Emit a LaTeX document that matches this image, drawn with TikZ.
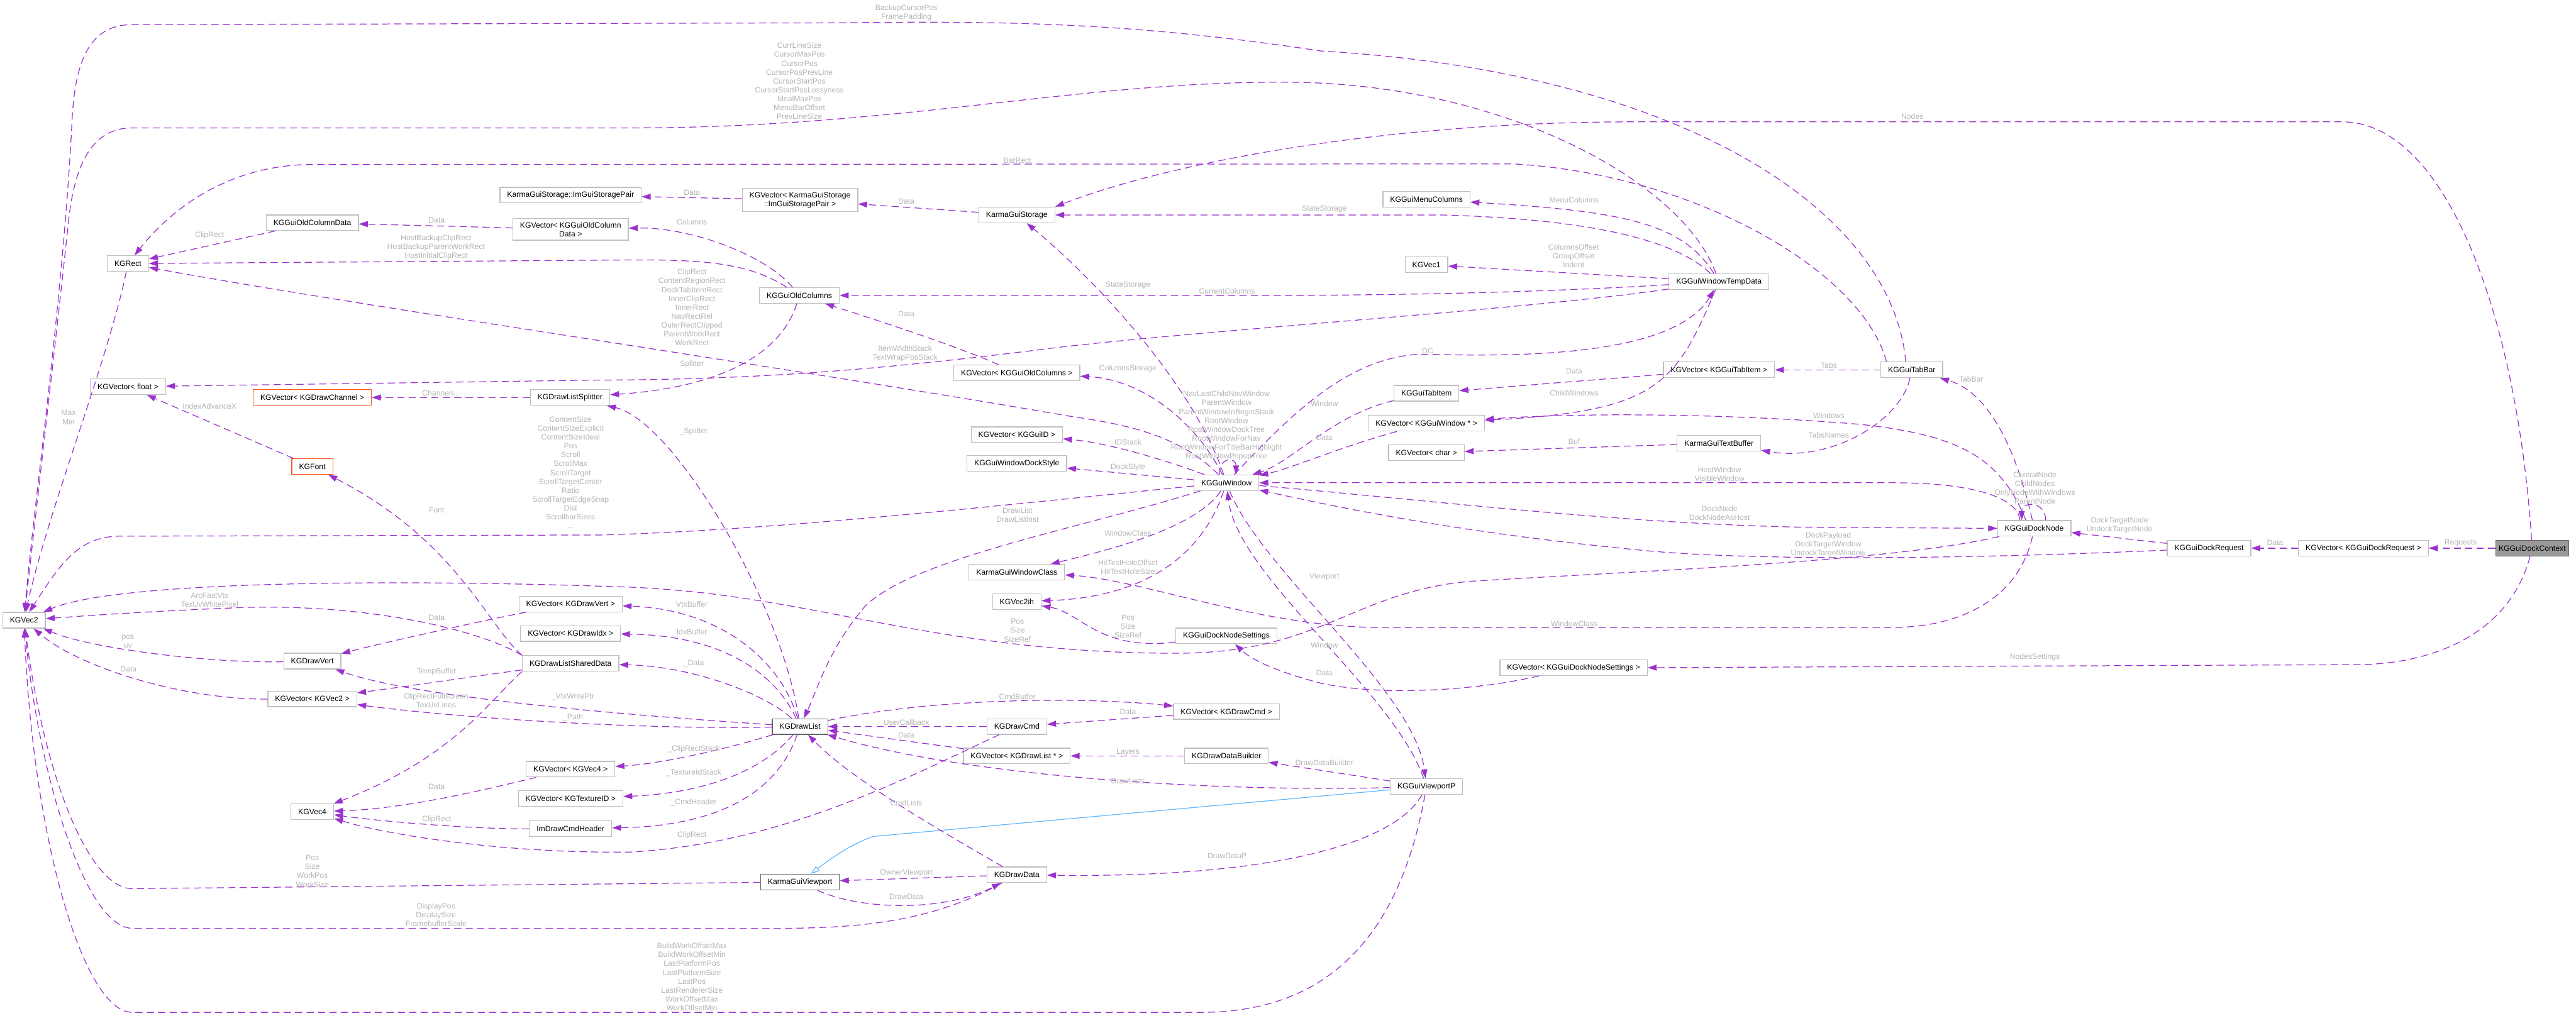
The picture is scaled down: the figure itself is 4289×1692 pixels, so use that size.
\documentclass[tikz,border=0pt]{standalone}
\usepackage{fontspec}
\setmainfont{Liberation Sans}
\usetikzlibrary{arrows.meta,calc}
\definecolor{relpurple}{HTML}{9A32CD}
\definecolor{inhblue}{HTML}{63B8FF}
\definecolor{nodegrey}{HTML}{BFBFBF}
\definecolor{docgrey}{HTML}{666666}
\definecolor{truncred}{HTML}{FF5722}
\definecolor{mainfill}{HTML}{999999}
\definecolor{labelgrey}{HTML}{B4B4B4}

\begin{document}
\begin{tikzpicture}[x=1pt,y=-1pt,>={Triangle[length=15pt,width=10pt]},font=\fontsize{12.8}{14.8}\selectfont]
\tikzstyle{cls}=[draw=nodegrey,line width=1.3pt,fill=white,align=center,inner xsep=12pt,inner ysep=6pt,minimum height=26pt]
\tikzstyle{clsdoc}=[cls,draw=docgrey]
\tikzstyle{clstrunc}=[cls,draw=truncred]
\tikzstyle{clsmain}=[cls,draw=docgrey,fill=mainfill,inner xsep=5pt]
\tikzstyle{rel}=[->,relpurple,line width=1.3pt,dash pattern=on 12pt off 7pt]
\tikzstyle{inh}=[-{Triangle[open,length=15pt,width=10pt]},inhblue,line width=1.3pt]
\tikzstyle{lbl}=[text=labelgrey,align=center,inner sep=0pt]

\useasboundingbox (0,0) rectangle (4289,1692);

\node[cls] (pair) at (950,325) {KarmaGuiStorage::ImGuiStoragePair};
\node[cls] (vpair) at (1332,333) {KGVector< KarmaGuiStorage\\::ImGuiStoragePair >};
\node[cls] (storage) at (1693,358) {KarmaGuiStorage};
\node[cls] (menucols) at (2375,332) {KGGuiMenuColumns};
\node[cls] (coldata) at (520,371) {KGGuiOldColumnData};
\node[cls] (vcoldata) at (950,382) {KGVector< KGGuiOldColumn\\Data >};
\node[cls] (rect) at (213,439) {KGRect};
\node[cls] (vec1) at (2375,441) {KGVec1};
\node[cls] (oldcols) at (1331,492) {KGGuiOldColumns};
\node[cls] (temp) at (2862,469) {KGGuiWindowTempData};
\node[cls] (vfloat) at (213,644) {KGVector< float >};
\node[clstrunc] (vchan) at (520,662) {KGVector< KGDrawChannel >};
\node[cls] (splitter) at (949,662) {KGDrawListSplitter};
\node[cls] (voldcols) at (1693,621) {KGVector< KGGuiOldColumns >};
\node[cls] (vtabitem) at (2862,616) {KGVector< KGGuiTabItem >};
\node[cls] (tabbar) at (3183,616) {KGGuiTabBar};
\node[cls] (tabitem) at (2375,655) {KGGuiTabItem};
\node[cls] (vwin) at (2375,705) {KGVector< KGGuiWindow * >};
\node[cls] (vid) at (1693,724) {KGVector< KGGuiID >};
\node[cls] (textbuf) at (2862,738) {KarmaGuiTextBuffer};
\node[cls] (vchar) at (2375,754) {KGVector< char >};
\node[cls] (dockstyle) at (1693,772) {KGGuiWindowDockStyle};
\node[clstrunc] (font) at (520,777) {KGFont};
\node[cls] (window) at (2042,804) {KGGuiWindow};
\node[cls] (docknode) at (3387,880) {KGGuiDockNode};
\node[cls] (request) at (3678,913) {KGGuiDockRequest};
\node[cls] (vrequest) at (3935,913) {KGVector< KGGuiDockRequest >};
\node[clsmain] (context) at (4216,913) {KGGuiDockContext};
\node[cls] (winclass) at (1693,953) {KarmaGuiWindowClass};
\node[cls] (vec2ih) at (1693,1002) {KGVec2ih};
\node[cls] (vvert) at (950,1006) {KGVector< KGDrawVert >};
\node[cls] (vec2) at (40,1033) {KGVec2};
\node[cls] (vidx) at (950,1055) {KGVector< KGDrawIdx >};
\node[cls] (nodeset) at (2042,1059) {KGGuiDockNodeSettings};
\node[cls] (vert) at (520,1101) {KGDrawVert};
\node[cls] (shared) at (950,1105) {KGDrawListSharedData};
\node[cls] (vnodeset) at (2620,1112) {KGVector< KGGuiDockNodeSettings >};
\node[cls] (vvec2) at (520,1164) {KGVector< KGVec2 >};
\node[cls] (vcmd) at (2042,1185) {KGVector< KGDrawCmd >};
\node[clsdoc] (drawlist) at (1332,1210) {KGDrawList};
\node[cls] (cmd) at (1693,1210) {KGDrawCmd};
\node[cls] (vdrawlist) at (1693,1259) {KGVector< KGDrawList * >};
\node[cls] (builder) at (2042,1259) {KGDrawDataBuilder};
\node[cls] (vvec4) at (950,1281) {KGVector< KGVec4 >};
\node[cls] (viewportp) at (2375,1310) {KGGuiViewportP};
\node[cls] (vtex) at (950,1330) {KGVector< KGTextureID >};
\node[cls] (vec4) at (520,1352) {KGVec4};
\node[cls] (header) at (950,1380) {ImDrawCmdHeader};
\node[cls] (drawdata) at (1693,1457) {KGDrawData};
\node[clsdoc] (viewport) at (1332,1469) {KarmaGuiViewport};

\draw[rel] (context) .. controls (4190,520) and (4070,203) .. (3900,203) -- (2700,203) .. controls (2300,205) and (1950,270) .. (storage.north east);
\draw[rel] (context) -- (vrequest);
\draw[rel] (context) .. controls (4180,1050) and (4060,1107) .. (3920,1107) -- (vnodeset.east);
\draw[rel] (vrequest) -- (request);
\draw[rel] (request) -- (docknode);
\draw[rel] (request) .. controls (3300,930) and (2950,935) .. (2750,918) .. controls (2450,890) and (2250,850) .. (window);
\draw[rel] ($(docknode.north)+(-24,0)$) .. controls (3360,830) and (3290,804) .. (3150,804) -- (window.east);
\draw[rel] (window) .. controls (2400,835) and (2700,872) .. (3000,878) -- (docknode.west);
\draw[rel] ($(docknode.north)+(19,0)$) .. controls +(0,-32) and +(0,-32) .. ($(docknode.north)+(-21,0)$);
\draw[rel] (docknode) .. controls (3350,720) and (3300,650) .. (tabbar);
\draw[rel] ($(docknode.north)+(-14,0)$) .. controls (3330,760) and (3260,725) .. (3100,707) .. controls (2900,690) and (2650,686) .. (vwin);
\draw[rel] (docknode) .. controls (3360,1000) and (3260,1045) .. (3150,1045) -- (2300,1045) .. controls (2100,1045) and (1900,965) .. (winclass);
\draw[rel] (docknode) .. controls (3150,935) and (2750,950) .. (2450,968) .. controls (2250,985) and (2200,1090) .. (1950,1088) .. controls (1550,1086) and (1350,990) .. (1050,978) .. controls (700,965) and (200,965) .. (vec2);

\draw[rel] (temp) .. controls (2800,370) and (2700,352) .. (menucols);
\draw[rel] (temp) -- (vec1);
\draw[rel] (temp) .. controls (2550,488) and (2300,492) .. (2100,492) -- (oldcols);
\draw[rel] (temp) .. controls (2790,400) and (2650,365) .. (2400,358) -- (storage);
\draw[rel] (temp) .. controls (2800,300) and (2500,140) .. (2150,137) .. controls (1800,134) and (1500,213) .. (1050,213) -- (220,213) .. controls (150,213) and (125,280) .. (115,360) .. controls (95,550) and (60,850) .. (vec2);
\draw[rel] (temp) .. controls (2550,515) and (2000,550) .. (1750,580) .. controls (1450,618) and (1250,632) .. (1000,633) -- (vfloat);
\draw[rel] (temp) .. controls (2790,640) and (2760,685) .. (vwin);
\draw[rel] ($(tabbar.north)+(-10,0)$) .. controls (3150,350) and (2800,120) .. (2200,85) .. controls (1900,40) and (1700,34) .. (1400,38) -- (220,41) .. controls (150,41) and (125,100) .. (120,200) .. controls (105,500) and (55,850) .. (vec2);
\draw[rel] ($(tabbar.north west)+(10,0)$) .. controls (3100,450) and (2820,290) .. (2520,273) -- (520,274) .. controls (400,274) and (300,330) .. (rect);
\draw[rel] (tabbar) -- (vtabitem);
\draw[rel] (tabbar) .. controls (3165,700) and (3050,770) .. (textbuf);
\draw[rel] (vtabitem) -- (tabitem);
\draw[rel] (textbuf) -- (vchar);

\draw[rel] (window) .. controls (2150,690) and (2250,588) .. (2377,590) .. controls (2550,595) and (2790,590) .. (temp);
\draw[rel] (window) .. controls (1990,700) and (1900,632) .. (voldcols);
\draw[rel] (window) .. controls (1990,650) and (1840,480) .. (storage);
\draw[rel] (window) .. controls (1960,720) and (1860,705) .. (1780,693) .. controls (1300,610) and (600,510) .. (rect);
\draw[rel] (window) .. controls (1950,770) and (1850,738) .. (vid);
\draw[rel] (window) -- (dockstyle);
\draw[rel] ($(window.north)+(-12,0)$) .. controls +(0,-30) and +(0,-30) .. ($(window.north)+(16,0)$);
\draw[rel] (window) .. controls (1800,880) and (1520,930) .. (1440,1010) .. controls (1380,1080) and (1360,1150) .. (drawlist);
\draw[rel] (window) .. controls (1990,880) and (1850,915) .. (winclass);
\draw[rel] (window) .. controls (2000,930) and (1900,995) .. (vec2ih);
\draw[rel] (window) .. controls (2100,950) and (2355,1150) .. (viewportp);
\draw[rel] (window) .. controls (1700,838) and (1300,883) .. (1000,891) -- (200,893) .. controls (130,893) and (100,940) .. (vec2);
\draw[rel] (viewportp) .. controls (2320,1150) and (2060,960) .. (window);
\draw[rel] (tabitem) .. controls (2220,690) and (2150,770) .. (window);
\draw[rel] (vwin) .. controls (2230,745) and (2150,780) .. (window);

\draw[rel] (storage) -- (vpair);
\draw[rel] (vpair) -- (pair);
\draw[rel] (voldcols) .. controls (1590,575) and (1450,530) .. (oldcols);
\draw[rel] (oldcols) .. controls (1275,425) and (1150,378) .. (vcoldata);
\draw[rel] (oldcols) .. controls (1300,590) and (1200,645) .. (splitter);
\draw[rel] (oldcols) .. controls (1250,440) and (1180,432) .. (1050,433) -- (rect);
\draw[rel] (vcoldata) -- (coldata);
\draw[rel] (coldata) -- (rect);
\draw[rel] (rect) .. controls (180,600) and (80,850) .. (vec2);
\draw[rel] (font) -- (vfloat);
\draw[rel] (splitter) -- (vchan);

\draw[rel] (viewportp) .. controls (2000,1320) and (1600,1290) .. (drawlist);
\draw[rel] (viewportp) -- (builder);
\draw[rel] (viewportp) .. controls (2320,1410) and (2100,1462) .. (drawdata);
\draw[inh] (viewportp) -- (1455,1393) .. controls (1415,1405) and (1370,1440) .. (viewport);
\draw[rel] (viewportp) .. controls (2330,1560) and (2210,1686) .. (2000,1686) -- (220,1686) .. controls (140,1686) and (55,1400) .. (vec2);
\draw[rel] (viewport) -- (220,1480) .. controls (150,1480) and (75,1300) .. (vec2);
\draw[rel] (drawdata) .. controls (1560,1530) and (1450,1546) .. (1300,1546) -- (220,1546) .. controls (145,1546) and (65,1300) .. (vec2);
\draw[rel] (viewport) .. controls (1430,1515) and (1570,1520) .. (drawdata);
\draw[rel] (drawdata) -- (viewport);
\draw[rel] (drawdata) .. controls (1560,1380) and (1420,1300) .. (drawlist);
\draw[rel] (drawlist) .. controls (1550,1163) and (1800,1160) .. (vcmd);
\draw[rel] (vcmd) -- (cmd);
\draw[rel] (cmd) -- (drawlist);
\draw[rel] (vdrawlist) -- (drawlist);
\draw[rel] (builder) -- (vdrawlist);
\draw[rel] (cmd) .. controls (1500,1300) and (1300,1405) .. (1050,1419) .. controls (850,1422) and (650,1392) .. (vec4);

\draw[rel] (drawlist) .. controls (1200,1250) and (1100,1272) .. (vvec4);
\draw[rel] (drawlist) .. controls (1260,1295) and (1150,1322) .. (vtex);
\draw[rel] (drawlist) .. controls (1290,1330) and (1180,1376) .. (header);
\draw[rel] (drawlist) .. controls (1300,1100) and (1200,1015) .. (vvert);
\draw[rel] (drawlist) .. controls (1290,1120) and (1200,1058) .. (vidx);
\draw[rel] (drawlist) .. controls (1280,1160) and (1160,1110) .. (shared);
\draw[rel] (drawlist) .. controls (1300,1000) and (1120,700) .. (splitter);
\draw[rel] (drawlist) .. controls (1100,1195) and (700,1165) .. (vert);
\draw[rel] (drawlist) .. controls (1100,1215) and (800,1200) .. (vvec2);
\draw[rel] (vvec4) .. controls (820,1312) and (680,1347) .. (vec4);
\draw[rel] (header) .. controls (800,1381) and (650,1370) .. (vec4);
\draw[rel] (shared.south west) .. controls (820,1160) and (760,1260) .. (vec4);
\draw[rel] (shared.north west) .. controls (810,1040) and (760,900) .. (font);
\draw[rel] (shared.north west) .. controls (790,1045) and (600,1005) .. (400,1012) .. controls (250,1018) and (150,1025) .. (vec2);
\draw[rel] (shared) .. controls (800,1125) and (700,1140) .. (vvec2);
\draw[rel] (vvert) .. controls (820,1030) and (640,1070) .. (vert);
\draw[rel] (vert) .. controls (350,1105) and (150,1080) .. (vec2);
\draw[rel] (vvec2) .. controls (300,1165) and (130,1110) .. (vec2);
\draw[rel] (nodeset) .. controls (1830,1085) and (1800,1020) .. (vec2ih);
\draw[rel] (vnodeset) .. controls (2460,1150) and (2300,1160) .. (2200,1138) .. controls (2130,1120) and (2085,1100) .. (nodeset);

\node[lbl] (lnodes) at (3184,194) {Nodes};
\node[lbl] (lrequests) at (4097,904) {Requests};
\node[lbl] (lnodessettings) at (3388,1095) {NodesSettings};
\node[lbl] (lreqdata) at (3788,904) {Data};
\node[lbl] (ldocktarget) at (3529,875) {DockTargetNode\\UndockTargetNode};
\node[lbl] (ldockpayload) at (3044,907) {DockPayload\\DockTargetWindow\\UndockTargetWindow};
\node[lbl] (lhostwindow) at (2863,790) {HostWindow\\VisibleWindow};
\node[lbl] (ldocknode) at (2863,855) {DockNode\\DockNodeAsHost};
\node[lbl] (lcentral) at (3388,813) {CentralNode\\ChildNodes\\OnlyNodeWithWindows\\ParentNode};
\node[lbl] (ltabbar) at (3282,632) {TabBar};
\node[lbl] (lwindows) at (3045,692) {Windows};
\node[lbl] (lnodeclass) at (2621,1039) {WindowClass};
\node[lbl] (lnodepos) at (1694,1050) {Pos\\Size\\SizeRef};
\node[lbl] (lmenucols) at (2621,333) {MenuColumns};
\node[lbl] (lcolsoffset) at (2620,426) {ColumnsOffset\\GroupOffset\\Indent};
\node[lbl] (lcurcols) at (2043,485) {CurrentColumns};
\node[lbl] (ltempstorage) at (2205,348) {StateStorage};
\node[lbl] (lcurrline) at (1331,135) {CurrLineSize\\CursorMaxPos\\CursorPos\\CursorPosPrevLine\\CursorStartPos\\CursorStartPosLossyness\\IdealMaxPos\\MenuBarOffset\\PrevLineSize};
\node[lbl] (lbackup) at (1509,21) {BackupCursorPos\\FramePadding};
\node[lbl] (lbarrect) at (1694,267) {BarRect};
\node[lbl] (litemwidth) at (1507,589) {ItemWidthStack\\TextWrapPosStack};
\node[lbl] (lchildwin) at (2621,655) {ChildWindows};
\node[lbl] (ldc) at (2377,585) {DC};
\node[lbl] (lcolstorage) at (1878,614) {ColumnsStorage};
\node[lbl] (lvoldcols) at (1509,523) {Data};
\node[lbl] (lcolumns) at (1152,370) {Columns};
\node[lbl] (lsplitter) at (1152,607) {Splitter};
\node[lbl] (lhostbackup) at (726,412) {HostBackupClipRect\\HostBackupParentWorkRect\\HostInitialClipRect};
\node[lbl] (lvcoldata) at (727,367) {Data};
\node[lbl] (lcoldata) at (349,392) {ClipRect};
\node[lbl] (lwinrect) at (1152,512) {ClipRect\\ContentRegionRect\\DockTabItemRect\\InnerClipRect\\InnerRect\\NavRectRel\\OuterRectClipped\\ParentWorkRect\\WorkRect};
\node[lbl] (lidstack) at (1878,736) {IDStack};
\node[lbl] (ldockstyle) at (1878,778) {DockStyle};
\node[lbl] (lnavwin) at (2042,709) {NavLastChildNavWindow\\ParentWindow\\ParentWindowInBeginStack\\RootWindow\\RootWindowDockTree\\RootWindowForNav\\RootWindowForTitleBarHighlight\\RootWindowPopupTree};
\node[lbl] (ldrawlist) at (1694,858) {DrawList\\DrawListInst};
\node[lbl] (lwinclass) at (1878,888) {WindowClass};
\node[lbl] (lhittest) at (1878,945) {HitTestHoleOffset\\HitTestHoleSize};
\node[lbl] (lviewport) at (2205,961) {Viewport};
\node[lbl] (lvpwindow) at (2205,1074) {Window};
\node[lbl] (ltabwindow) at (2205,672) {Window};
\node[lbl] (lvwin) at (2205,729) {Data};
\node[lbl] (lvtabitem) at (2621,618) {Data};
\node[lbl] (ltabs) at (3045,608) {Tabs};
\node[lbl] (ltabsnames) at (3045,725) {TabsNames};
\node[lbl] (lbuf) at (2621,735) {Buf};
\node[lbl] (lstorage) at (1509,335) {Data};
\node[lbl] (lvpair) at (1152,321) {Data};
\node[lbl] (lwinstorage) at (1878,475) {StateStorage};
\node[lbl] (lcontent) at (950,787) {ContentSize\\ContentSizeExplicit\\ContentSizeIdeal\\Pos\\Scroll\\ScrollMax\\ScrollTarget\\ScrollTargetCenter\\Ratio\\ScrollTargetEdgeSnap\\Dist\\ScrollbarSizes\\...};
\node[lbl] (ldrawlists) at (1878,1301) {DrawLists};
\node[lbl] (lbuilder) at (2205,1270) {DrawDataBuilder};
\node[lbl] (ldrawdatap) at (2043,1426) {DrawDataP};
\node[lbl] (lbuildwork) at (1152,1627) {BuildWorkOffsetMax\\BuildWorkOffsetMin\\LastPlatformPos\\LastPlatformSize\\LastPos\\LastRendererSize\\WorkOffsetMax\\WorkOffsetMin};
\node[lbl] (lvppos) at (520,1451) {Pos\\Size\\WorkPos\\WorkSize};
\node[lbl] (ldisplay) at (726,1524) {DisplayPos\\DisplaySize\\FramebufferScale};
\node[lbl] (ldrawdata) at (1509,1494) {DrawData};
\node[lbl] (lowner) at (1509,1454) {OwnerViewport};
\node[lbl] (lcmdlists) at (1509,1337) {CmdLists};
\node[lbl] (lcmdbuffer) at (1694,1160) {CmdBuffer};
\node[lbl] (lvcmd) at (1878,1186) {Data};
\node[lbl] (lusercb) at (1509,1203) {UserCallback};
\node[lbl] (lvdrawlist) at (1509,1224) {Data};
\node[lbl] (llayers) at (1878,1253) {Layers};
\node[lbl] (lcmdclip) at (1152,1391) {ClipRect};
\node[lbl] (lcliprectstack) at (1155,1247) {\_ClipRectStack};
\node[lbl] (ltexstack) at (1155,1287) {\_TextureIdStack};
\node[lbl] (lcmdheader) at (1155,1336) {\_CmdHeader};
\node[lbl] (lvvec4) at (727,1310) {Data};
\node[lbl] (lheaderclip) at (727,1365) {ClipRect};
\node[lbl] (lfullscreen) at (726,1167) {ClipRectFullscreen\\TexUvLines};
\node[lbl] (lfont) at (727,850) {Font};
\node[lbl] (larcfast) at (349,999) {ArcFastVtx\\TexUvWhitePixel};
\node[lbl] (ltempbuffer) at (727,1119) {TempBuffer};
\node[lbl] (lvvert) at (727,1029) {Data};
\node[lbl] (lposuv) at (213,1068) {pos\\uv};
\node[lbl] (lvvec2) at (214,1114) {Data};
\node[lbl] (lvtxbuffer) at (1152,1006) {VtxBuffer};
\node[lbl] (lidxbuffer) at (1152,1052) {IdxBuffer};
\node[lbl] (ldata) at (1155,1105) {\_Data};
\node[lbl] (lsplitter2) at (1155,719) {\_Splitter};
\node[lbl] (lvtxwrite) at (954,1160) {\_VtxWritePtr};
\node[lbl] (lpath) at (954,1195) {\_Path};
\node[lbl] (lchannels) at (730,655) {Channels};
\node[lbl] (lindexadv) at (349,677) {IndexAdvanceX};
\node[lbl] (lmaxmin) at (114,695) {Max\\Min};
\node[lbl] (lsettingspos) at (1878,1043) {Pos\\Size\\SizeRef};
\node[lbl] (lvnodeset) at (2205,1121) {Data};
\end{tikzpicture}
\end{document}
